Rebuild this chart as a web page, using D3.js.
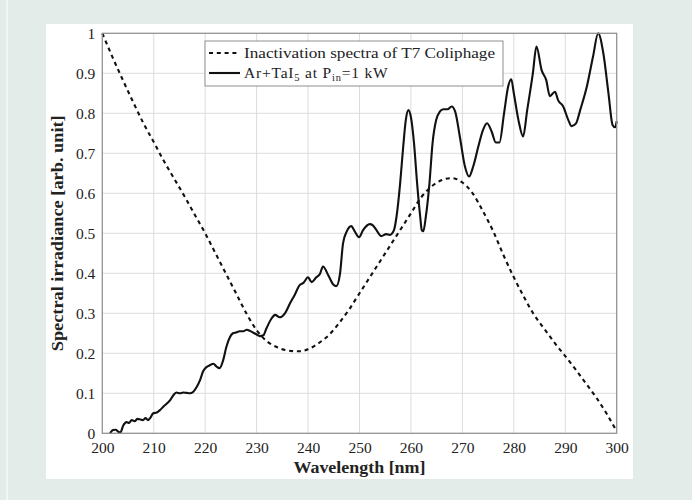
<!DOCTYPE html>
<html>
<head>
<meta charset="utf-8">
<script src="https://cdn.jsdelivr.net/npm/d3@7"></script>
<style>
  html, body { margin: 0; padding: 0; background: #e4ece9; }
  svg { display: block; }
  text { font-family: "Liberation Serif", "DejaVu Serif", serif; fill: #222; }
</style>
</head>
<body>
<svg id="chart" width="692" height="500"></svg>
<script>
// Inactivation spectrum of T7 coliphage (dashed)
const inactWl = [200,202,204,206,208,210,212,214,216,218,220,222,224,226,228,230,232,234,236,238,240,242,244,246,248,250,252,254,256,258,260,262,264,266,268,270,272,274,276,278,280,282,284,286,288,290,292,294,296,298,300];
const inactVal = [1.0,0.94,0.883,0.828,0.775,0.728,0.68,0.636,0.592,0.546,0.5,0.45,0.40,0.35,0.30,0.258,0.23,0.215,0.207,0.205,0.21,0.225,0.245,0.275,0.31,0.35,0.39,0.43,0.47,0.51,0.55,0.59,0.617,0.633,0.638,0.627,0.60,0.555,0.505,0.445,0.39,0.34,0.295,0.26,0.225,0.193,0.16,0.125,0.09,0.05,0.005];

// Ar+TaI5 lamp emission at 1 kW (solid)
const lampWl = [201.5,202.1,202.6,203.1,203.5,204.1,204.7,205.2,205.7,206.3,206.8,207.3,207.9,208.4,208.9,209.4,209.9,210.6,211.2,211.9,212.6,213.2,213.8,214.4,215.1,215.7,216.4,217.0,217.7,218.4,219.0,219.6,220.3,220.9,221.6,222.2,222.8,223.5,224.1,224.8,225.4,226.0,226.7,227.4,228.1,228.7,229.3,230.0,230.6,231.3,231.9,232.9,233.6,234.5,235.5,236.5,237.4,238.4,239.1,240.0,240.7,241.6,242.3,242.9,243.9,244.9,245.5,246.2,246.8,247.5,248.4,249.1,249.9,250.7,252.0,252.6,253.3,254.2,255.2,255.9,256.7,257.2,257.9,258.5,259.0,259.5,260.0,260.6,261.2,261.8,262.1,262.4,262.9,263.6,264.2,264.9,265.6,266.3,267.1,267.9,268.6,269.5,270.5,271.3,272.1,273.1,274.0,274.8,275.7,276.5,277.2,278.1,278.9,279.5,280.0,280.9,281.8,282.6,283.7,284.4,285.4,286.3,287.0,288.0,288.6,289.6,290.6,291.2,292.1,292.9,294.2,295.4,296.4,297.4,298.4,299.2,299.7,300.0];
const lampVal = [0.0,0.008,0.009,0.004,0.002,0.02,0.028,0.026,0.033,0.03,0.036,0.035,0.033,0.038,0.033,0.04,0.05,0.052,0.058,0.067,0.075,0.083,0.095,0.102,0.1,0.102,0.101,0.1,0.104,0.117,0.133,0.155,0.166,0.17,0.174,0.167,0.163,0.183,0.215,0.24,0.25,0.252,0.255,0.255,0.259,0.256,0.252,0.247,0.243,0.245,0.262,0.287,0.296,0.29,0.30,0.325,0.346,0.371,0.376,0.39,0.378,0.39,0.398,0.417,0.396,0.372,0.368,0.398,0.475,0.504,0.518,0.504,0.49,0.508,0.523,0.52,0.508,0.493,0.498,0.496,0.508,0.542,0.625,0.717,0.783,0.808,0.79,0.725,0.625,0.542,0.508,0.505,0.542,0.625,0.725,0.783,0.804,0.81,0.81,0.817,0.804,0.742,0.667,0.642,0.667,0.717,0.758,0.775,0.754,0.727,0.727,0.80,0.867,0.885,0.85,0.783,0.742,0.808,0.90,0.967,0.908,0.883,0.843,0.854,0.833,0.817,0.783,0.768,0.775,0.808,0.867,0.942,1.0,0.95,0.85,0.771,0.765,0.78];

const xTicks = [200,210,220,230,240,250,260,270,280,290,300];
const yTicks = [0,0.1,0.2,0.3,0.4,0.5,0.6,0.7,0.8,0.9,1];
const xTitle = "Wavelength [nm]";
const yTitle = "Spectral irradiance [arb. unit]";

const svg = d3.select("#chart");

// page decoration and white figure panel
svg.append("rect").attr("x", 0).attr("y", 0).attr("width", 692).attr("height", 500).attr("fill", "#e4ece9");
svg.append("rect").attr("x", 6).attr("y", 0).attr("width", 2).attr("height", 500).attr("fill", "#f3f6f5");
svg.append("rect").attr("x", 46).attr("y", 24).attr("width", 587).attr("height", 455).attr("fill", "#ffffff");

const L = 102.3, R = 616.7, T = 33.3, B = 433.3;
const x = d3.scaleLinear().domain([200, 300]).range([L, R]);
const y = d3.scaleLinear().domain([0, 1]).range([B, T]);

// grid
const grid = svg.append("g");
grid.selectAll(".gx").data(xTicks).join("line")
  .attr("x1", d => x(d)).attr("x2", d => x(d)).attr("y1", T).attr("y2", B)
  .attr("stroke", "#dcdcdc").attr("stroke-width", 1);
grid.selectAll(".gy").data(yTicks).join("line")
  .attr("x1", L).attr("x2", R).attr("y1", d => y(d)).attr("y2", d => y(d))
  .attr("stroke", "#dcdcdc").attr("stroke-width", 1);

// axes (labels only, frame drawn separately)
const xAxis = svg.append("g").attr("transform", `translate(0,${B})`)
  .call(d3.axisBottom(x).tickValues(xTicks).tickFormat(d3.format("d")).tickSize(0).tickPadding(9));
const yAxis = svg.append("g").attr("transform", `translate(${L},0)`)
  .call(d3.axisLeft(y).tickValues(yTicks).tickFormat(d => d === 0 ? "0" : d === 1 ? "1" : d3.format(".1f")(d)).tickSize(0).tickPadding(7));
[xAxis, yAxis].forEach(a => {
  a.select(".domain").remove();
  a.selectAll("text").attr("font-family", "Liberation Serif, serif").attr("font-size", 15.5).attr("fill", "#222");
});

// curves
const lineGen = d3.line().x(d => x(d[0])).y(d => y(d[1])).curve(d3.curveMonotoneX);
const inact = inactWl.map((w, i) => [w, inactVal[i]]);
const lamp = lampWl.map((w, i) => [w, lampVal[i]]);

svg.append("path").datum(inact).attr("d", lineGen)
  .attr("fill", "none").attr("stroke", "#111").attr("stroke-width", 2.1).attr("stroke-dasharray", "4,3.8");
svg.append("path").datum(lamp).attr("d", lineGen)
  .attr("fill", "none").attr("stroke", "#111").attr("stroke-width", 2.1).attr("stroke-linejoin", "round");

// frame
svg.append("rect").attr("x", L).attr("y", T).attr("width", R - L).attr("height", B - T)
  .attr("fill", "none").attr("stroke", "#8f8f8f").attr("stroke-width", 1.2);

// axis titles
svg.append("text").attr("x", (L + R) / 2).attr("y", 473).attr("text-anchor", "middle")
  .attr("font-size", 16).attr("font-weight", "bold")
  .attr("textLength", 132).attr("lengthAdjust", "spacingAndGlyphs").text(xTitle);
svg.append("text").attr("transform", `translate(63,${(T + B) / 2}) rotate(-90)`).attr("text-anchor", "middle")
  .attr("font-size", 16).attr("font-weight", "bold")
  .attr("textLength", 236).attr("lengthAdjust", "spacingAndGlyphs").text(yTitle);

// legend
const lg = svg.append("g");
lg.append("rect").attr("x", 205).attr("y", 41).attr("width", 298).attr("height", 45)
  .attr("fill", "#fff").attr("stroke", "#8f8f8f").attr("stroke-width", 1);
lg.append("line").attr("x1", 209).attr("x2", 240).attr("y1", 53).attr("y2", 53)
  .attr("stroke", "#111").attr("stroke-width", 2.1).attr("stroke-dasharray", "4,3.8");
lg.append("line").attr("x1", 209).attr("x2", 240).attr("y1", 73).attr("y2", 73)
  .attr("stroke", "#111").attr("stroke-width", 2.1);
lg.append("text").attr("x", 244).attr("y", 58).attr("font-size", 15)
  .attr("textLength", 251).attr("lengthAdjust", "spacingAndGlyphs")
  .text("Inactivation spectra of T7 Coliphage");
const t2 = lg.append("text").attr("x", 244).attr("y", 78).attr("font-size", 15.5).attr("letter-spacing", 0.8);
t2.append("tspan").text("Ar+TaI");
t2.append("tspan").attr("font-size", 10.5).attr("dy", 3).text("5");
t2.append("tspan").attr("dy", -3).text(" at P");
t2.append("tspan").attr("font-size", 10.5).attr("dy", 3).text("in");
t2.append("tspan").attr("dy", -3).text("=1 kW");
</script>
</body>
</html>
